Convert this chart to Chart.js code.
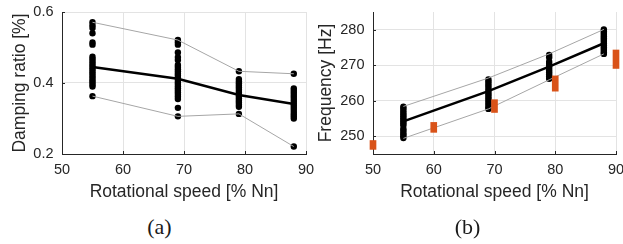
<!DOCTYPE html>
<html><head><meta charset="utf-8">
<script src="https://cdn.jsdelivr.net/npm/chart.js@4.4.1/dist/chart.umd.min.js"></script>
<style>
html,body{margin:0;padding:0;background:#fff;}
#wrap{position:relative;width:623px;height:244px;overflow:hidden;background:#fff;}
canvas{position:absolute;top:0;}
#ca{left:0;}
#cb{left:305px;}
.cap{position:absolute;width:100px;text-align:center;font-family:"Liberation Serif",serif;font-size:22px;line-height:22px;color:#1a1a1a;top:215.6px;}
</style></head>
<body><div id="wrap">
<canvas id="ca" width="318" height="205" style="width:318px;height:205px"></canvas>
<canvas id="cb" width="318" height="205" style="width:318px;height:205px"></canvas>
<div class="cap" style="left:109.5px">(a)</div>
<div class="cap" style="left:417.5px">(b)</div>
</div>
<script>
// ---------- data: panel (a) damping ratio ----------
const speeds = [55, 69, 79, 88];
const dampMean = [0.445, 0.412, 0.366, 0.341];
const dampMax = [0.571, 0.521, 0.433, 0.426];
const dampMin = [0.363, 0.306, 0.313, 0.221];
const damp55 = [0.571, 0.563, 0.555, 0.540, 0.514, 0.508, 0.474, 0.468, 0.462, 0.456, 0.450, 0.444, 0.438, 0.432, 0.426, 0.420, 0.414, 0.408, 0.402, 0.396, 0.390, 0.363];
const damp69 = [0.521, 0.515, 0.508, 0.486, 0.473, 0.465, 0.451, 0.445, 0.439, 0.433, 0.427, 0.421, 0.415, 0.409, 0.403, 0.397, 0.391, 0.385, 0.379, 0.373, 0.367, 0.361, 0.355, 0.330, 0.306];
const damp79 = [0.433, 0.411, 0.405, 0.399, 0.393, 0.387, 0.381, 0.375, 0.369, 0.363, 0.357, 0.351, 0.345, 0.339, 0.333, 0.313];
const damp88 = [0.426, 0.385, 0.379, 0.373, 0.367, 0.361, 0.355, 0.349, 0.343, 0.337, 0.331, 0.325, 0.318, 0.312, 0.306, 0.300, 0.221];
const dampTicks = [0.2, 0.4, 0.6];
const speedTicks = [50, 60, 70, 80, 90];

// ---------- data: panel (b) frequency ----------
const freqMean = [254.2, 262.7, 269.6, 276.2];
const freqMax = [258.4, 266.4, 273.2, 280.1];
const freqMin = [249.4, 257.7, 265.9, 273.2];
const freq55 = [258.3, 257.8, 257.2, 256.6, 256.1, 255.6, 255.1, 254.6, 254.1, 253.6, 253.1, 252.1, 251.6, 251.0, 250.5, 250.0, 249.5];
const freq69 = [266.0, 265.4, 264.8, 264.2, 263.6, 263.0, 262.4, 261.8, 261.2, 260.6, 260.0, 259.4, 258.8, 258.2, 257.7];
const freq79 = [272.9, 272.2, 271.0, 270.4, 269.8, 269.2, 268.6, 268.0, 267.4, 266.8, 266.2];
const freq88 = [280.1, 279.6, 279.1, 278.6, 278.1, 277.6, 277.1, 276.6, 276.1, 275.6, 275.1, 274.6, 274.1, 273.6, 273.2];
const refSpeeds = [50, 60, 70, 80, 90];
const refLow = [246.3, 251.1, 256.7, 262.7, 269.1];
const refHigh = [248.8, 253.9, 260.3, 267.0, 274.3];
const freqTicks = [250, 260, 270, 280];

// ---------- styling ----------
const AX = '#262626', GRID = '#e3e3e3', GRAY = '#a6a6a6', ORANGE = '#D95319';
const SANS = '"Liberation Sans", Arial, sans-serif';

function pts(xs, ys) { return xs.map((x, i) => ({x: x, y: ys[i]})); }
function cloud(groups) {
  const out = [];
  groups.forEach((g, i) => g.forEach(v => out.push({x: speeds[i], y: v})));
  return out;
}

const inTicks = {
  id: 'inTicks',
  afterDatasetsDraw(chart) {
    const {ctx, chartArea: a, scales: {x, y}} = chart;
    ctx.save();
    ctx.strokeStyle = AX; ctx.lineWidth = 1;
    ctx.beginPath();
    x.ticks.forEach(t => { const p = Math.round(x.getPixelForValue(t.value)) + 0.5; ctx.moveTo(p, a.bottom); ctx.lineTo(p, a.bottom - 3); });
    y.ticks.forEach(t => { const p = Math.round(y.getPixelForValue(t.value)) + 0.5; ctx.moveTo(a.left, p); ctx.lineTo(a.left + 3, p); });
    ctx.stroke();
    ctx.restore();
  }
};

function makeChart(id, cfg) {
  const datasets = [
    {type: 'line', data: pts(speeds, cfg.mean), borderColor: '#000', borderWidth: 2.5, pointRadius: 0, order: 0, clip: false},
    {type: 'line', data: pts(speeds, cfg.max), borderColor: GRAY, borderWidth: 1, pointRadius: 0, order: 2, clip: false},
    {type: 'line', data: pts(speeds, cfg.min), borderColor: GRAY, borderWidth: 1, pointRadius: 0, order: 2, clip: false},
    {type: 'scatter', data: cloud(cfg.groups), backgroundColor: '#000', borderWidth: 0, pointRadius: 3.2, order: 3, clip: false}
  ];
  if (cfg.ref) {
    datasets.push({type: 'bar', data: cfg.ref, backgroundColor: ORANGE, borderWidth: 0, barThickness: 6, order: 1, clip: false});
  }
  return new Chart(document.getElementById(id), {
    type: 'scatter',
    data: {datasets: datasets},
    options: {
      responsive: false, animation: false, events: [],
      layout: {padding: {left: 0, right: cfg.padRight, top: 12, bottom: 0}},
      plugins: {legend: {display: false}, tooltip: {enabled: false}},
      scales: {
        x: {
          type: 'linear', min: 50, max: 90, offset: false,
          afterBuildTicks: s => { s.ticks = speedTicks.map(v => ({value: v})); },
          afterFit: s => { s.height = 51; s.paddingLeft = 0; s.paddingRight = 0; },
          grid: {color: GRID, lineWidth: 1, drawTicks: false, offset: false},
          border: {display: true, color: AX, width: 1},
          ticks: {color: AX, font: {family: SANS, size: 14.5}, padding: 7.3, maxRotation: 0, autoSkip: false, callback: v => String(v)},
          title: {display: true, text: 'Rotational speed [% Nn]', color: AX, font: {family: SANS, size: 17.5}, padding: {top: 0, bottom: 2.3}}
        },
        y: {
          type: 'linear', min: cfg.ymin, max: cfg.ymax,
          afterBuildTicks: s => { s.ticks = cfg.yticks.map(v => ({value: v})); },
          afterFit: s => { s.width = cfg.yWidth; s.paddingTop = 0; s.paddingBottom = 0; },
          grid: {color: GRID, lineWidth: 1, drawTicks: false},
          border: {display: true, color: AX, width: 1},
          ticks: {color: AX, font: {family: SANS, size: 14.5}, padding: 8.5, autoSkip: false, callback: cfg.fmt},
          title: {display: true, text: cfg.ytitle, color: AX, font: {family: SANS, size: 17.5}, padding: {top: cfg.ytitlePad, bottom: 0}}
        }
      }
    },
    plugins: [inTicks]
  });
}

makeChart('ca', {
  mean: dampMean, max: dampMax, min: dampMin,
  groups: [damp55, damp69, damp79, damp88],
  ymin: 0.2, ymax: 0.6, yticks: dampTicks, fmt: v => Number(v).toFixed(1),
  ytitle: 'Damping ratio [%]', ytitlePad: 10, yWidth: 62, padRight: 12
});
makeChart('cb', {
  mean: freqMean, max: freqMax, min: freqMin,
  groups: [freq55, freq69, freq79, freq88],
  ref: refSpeeds.map((s, i) => ({x: s, y: [refLow[i], refHigh[i]]})),
  ymin: 245, ymax: 285, yticks: freqTicks, fmt: v => String(v),
  ytitle: 'Frequency [Hz]', ytitlePad: 10.5, yWidth: 68, padRight: 7
});
</script>
</body></html>
